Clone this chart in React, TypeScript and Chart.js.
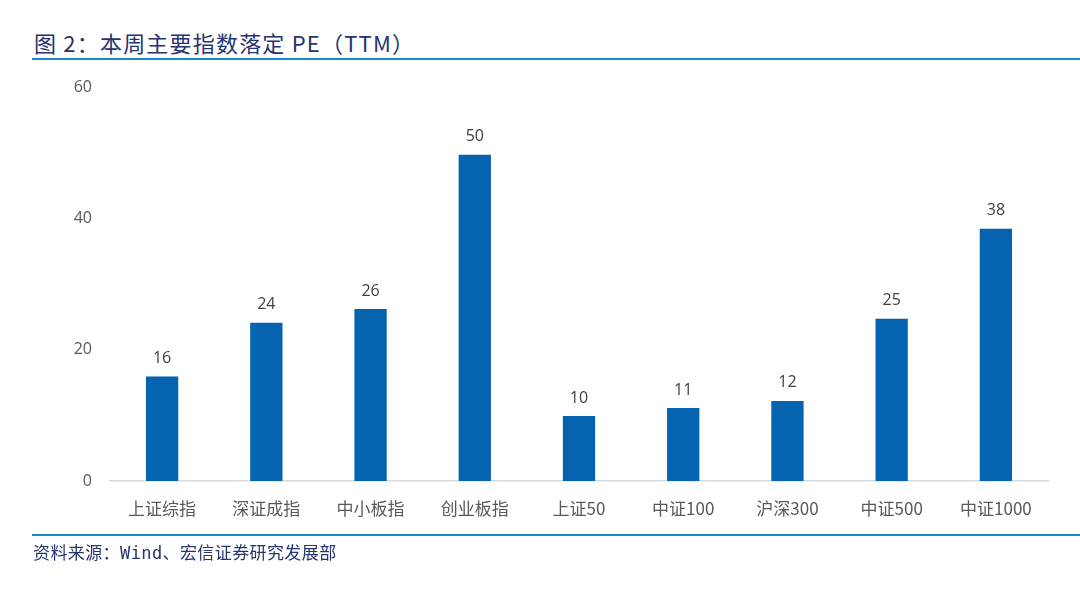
import React, { useEffect, useRef } from "react";
import { Chart, registerables } from "chart.js";

Chart.register(...registerables);

const categories = ["上证综指", "深证成指", "中小板指", "创业板指", "上证50", "中证100", "沪深300", "中证500", "中证1000"];
const peValues = [15.9, 24.1, 26.2, 49.7, 9.9, 11.1, 12.2, 24.7, 38.4];
const yTicks = [0, 20, 40, 60];

const TITLE = "图 2：本周主要指数落定 PE（TTM）";
const SOURCE = "资料来源：Wind、宏信证券研究发展部";

const labelPlugin = {
  id: "barLabels",
  afterDatasetsDraw(chart: any) {
    const ctx = chart.ctx;
    const meta = chart.getDatasetMeta(0);
    ctx.save();
    ctx.fillStyle = "#404040";
    ctx.font = "16px 'Open Sans', 'Noto Sans', sans-serif";
    ctx.textAlign = "center";
    ctx.textBaseline = "bottom";
    meta.data.forEach((bar: any, i: number) => {
      const v = chart.data.datasets[0].data[i] as number;
      ctx.fillText(String(Math.round(v)), bar.x, bar.y - 10);
    });
    ctx.restore();
  },
};

export default function App() {
  const ref = useRef<HTMLCanvasElement>(null);
  useEffect(() => {
    const chart = new Chart(ref.current!, {
      type: "bar",
      data: {
        labels: categories,
        datasets: [
          {
            data: peValues,
            backgroundColor: "#0563B0",
            categoryPercentage: 1,
            barPercentage: 0.31,
          },
        ],
      },
      options: {
        animation: false,
        responsive: false,
        maintainAspectRatio: false,
        layout: { padding: { left: 0, top: 87, right: 32, bottom: 55 } },
        plugins: { legend: { display: false }, tooltip: { enabled: false } },
        scales: {
          x: {
            grid: { display: false, drawTicks: false },
            border: { color: "#d9d9d9", width: 1.5 },
            ticks: {
              color: "#595959",
              padding: 17,
              maxRotation: 0,
              autoSkip: false,
              font: { size: 17, family: "'Noto Sans CJK SC', 'Open Sans', sans-serif" },
            },
            afterFit(scale: any) {
              scale.height = 60;
            },
          },
          y: {
            min: 0,
            max: 60,
            afterBuildTicks(scale: any) {
              scale.ticks = yTicks.map((v) => ({ value: v }));
            },
            grid: { display: false, drawTicks: false },
            border: { display: false },
            ticks: {
              color: "#595959",
              padding: 18,
              font: { size: 16, family: "'Open Sans', 'Noto Sans', sans-serif" },
            },
            afterFit(scale: any) {
              scale.width = 110;
            },
          },
        },
      },
      plugins: [labelPlugin],
    });
    return () => chart.destroy();
  }, []);

  return (
    <div style={{ position: "absolute", left: 0, top: 0, width: 1080, height: 596, background: "#fff", overflow: "hidden" }}>
      <div
        style={{
          position: "absolute",
          left: 34,
          top: 27,
          fontSize: 22,
          lineHeight: "30px",
          letterSpacing: "1.2px",
          color: "#263470",
          fontFamily: "'Noto Sans CJK SC', sans-serif",
          whiteSpace: "pre",
        }}
      >
        {TITLE}
      </div>
      <div style={{ position: "absolute", left: 32, top: 58, width: 1048, height: 2, background: "#1689D2" }} />
      <canvas ref={ref} width={1080} height={596} style={{ position: "absolute", left: 0, top: 0 }} />
      <div style={{ position: "absolute", left: 32, top: 534, width: 1048, height: 2, background: "#1689D2" }} />
      <div
        style={{
          position: "absolute",
          left: 33,
          top: 541,
          fontSize: 17,
          lineHeight: "24px",
          letterSpacing: "0.4px",
          color: "#263470",
          fontFamily: "'DejaVu Sans Mono', 'Noto Sans CJK SC', monospace",
          whiteSpace: "pre",
        }}
      >
        {SOURCE}
      </div>
    </div>
  );
}
